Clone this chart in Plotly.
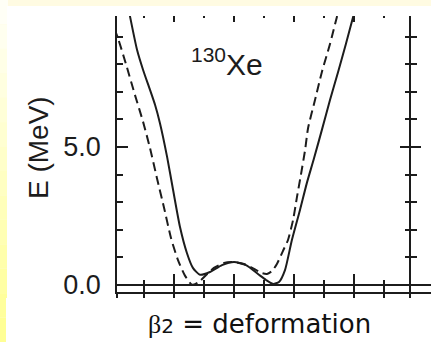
import plotly.graph_objects as go

# ---------------- data (beta_2 deformation, energy in MeV) ----------------
beta_solid = [-0.355, -0.347, -0.323, -0.303, -0.280, -0.263, -0.247, -0.223, -0.203, -0.180,
              -0.157, -0.137, -0.113, -0.080, -0.040, 0.000, 0.040, 0.080, 0.107, 0.130,
              0.150, 0.170, 0.193, 0.220, 0.243, 0.267, 0.293, 0.320, 0.347, 0.373, 0.397, 0.407]
E_solid = [10.2, 9.75, 8.51, 7.79, 7.07, 6.52, 5.87, 4.64, 3.44, 2.10,
           1.16, 0.62, 0.37, 0.47, 0.72, 0.83, 0.72, 0.40, 0.18, 0.04,
           0.11, 0.54, 1.63, 2.72, 3.70, 4.60, 5.62, 6.70, 7.72, 8.73, 9.71, 10.14]

beta_dashed = [-0.400, -0.387, -0.360, -0.330, -0.303, -0.280, -0.257, -0.233, -0.210, -0.187,
               -0.163, -0.140, -0.117, -0.093, -0.067, -0.033, 0.000, 0.033, 0.067, 0.093,
               0.110, 0.127, 0.143, 0.163, 0.180, 0.197, 0.210, 0.223, 0.237, 0.247,
               0.270, 0.293, 0.320, 0.343, 0.353]
E_dashed = [9.31, 8.95, 8.00, 6.88, 5.91, 4.96, 3.88, 2.79, 1.70, 0.91,
            0.33, 0.01, 0.11, 0.36, 0.62, 0.80, 0.83, 0.76, 0.58, 0.43,
            0.40, 0.51, 0.76, 1.23, 1.63, 2.36, 3.19, 3.99, 4.89, 5.69,
            6.70, 7.72, 8.73, 9.71, 10.14]

y_major = [0, 5]
y_major_text = ["0.0", "5.0"]
y_minor = [1, 2, 3, 4, 6, 7, 8, 9]
x_major = [-0.2, 0.0, 0.2, 0.4]
x_minor = [-0.3, -0.1, 0.1, 0.3, 0.5]
x_bottom = [-0.389, -0.3, -0.2, -0.1, 0.0, 0.1, 0.2, 0.3, 0.4, 0.5, 0.5867]

nucleus_label = "<sup>130</sup>Xe"
y_title = "E (MeV)"
x_title = ("<span style=\"font-family:Liberation Serif\">β</span>"
           "<span style=\"font-size:20px\">2</span> = deformation")

# ---------------- layout geometry ----------------
W, H = 431, 342
def pxx(x):
    return x / W
def pyy(y):
    return (H - y) / H

XR = [-0.39, 0.6567]
YR = [-0.254, 9.746]
INK = "#1c1c1c"
LW = 1.5

fig = go.Figure()
fig.add_trace(go.Scatter(x=beta_solid, y=E_solid, mode="lines",
                         line=dict(color=INK, width=2.0, shape="spline", smoothing=0.6),
                         xaxis="x", yaxis="y", showlegend=False, hoverinfo="skip"))
fig.add_trace(go.Scatter(x=beta_dashed, y=E_dashed, mode="lines",
                         line=dict(color=INK, width=2.0, dash="9px,5px", shape="spline", smoothing=0.6),
                         xaxis="x2", yaxis="y2", showlegend=False, hoverinfo="skip"))
# transparent copy so the top tick row and the inner right ticks get an axis pair to live on
fig.add_trace(go.Scatter(x=beta_solid, y=E_solid, mode="lines", opacity=0,
                         line=dict(color=INK, width=0.1),
                         xaxis="x3", yaxis="y3", showlegend=False, hoverinfo="skip"))

# background: yellow slide edges and white panel
shapes = []
nb = 14
for i in range(nb):
    y0 = H * i / nb
    y1 = H * (i + 1) / nb
    t = (i + 0.5) / nb
    g = int(round(250 - 105 * t))
    col = f"rgb(255,255,{g})"
    shapes.append(dict(type="rect", xref="paper", yref="paper", x0=0, x1=pxx(8),
                       y0=pyy(y1), y1=pyy(y0), fillcolor=col, line=dict(width=0), layer="below"))
shapes.append(dict(type="rect", xref="paper", yref="paper", x0=pxx(7), x1=1,
                   y0=pyy(298), y1=pyy(6), fillcolor="white", line=dict(width=0), layer="below"))
shapes.append(dict(type="rect", xref="paper", yref="paper", x0=pxx(6), x1=1,
                   y0=0, y1=pyy(298), fillcolor="white", line=dict(width=0), layer="below"))

common_font = dict(family="Liberation Sans, Arial, sans-serif", color=INK)
no_auto = dict(automargin=False, showgrid=False, zeroline=False)

fig.update_layout(
    width=W, height=H, autosize=False,
    margin=dict(l=0, r=0, t=0, b=0, pad=0, autoexpand=False),
    paper_bgcolor="#FFFBE2", plot_bgcolor="rgba(0,0,0,0)",
    shapes=shapes,
    xaxis=dict(domain=[pxx(117), 1], range=XR, anchor="y", **no_auto,
               showline=True, linecolor=INK, linewidth=LW,
               tickmode="array", tickvals=x_major, ticks="inside", ticklen=18,
               tickwidth=LW, tickcolor=INK, showticklabels=False,
               minor=dict(tickmode="array", tickvals=x_minor, ticks="inside", ticklen=12,
                          tickwidth=LW, tickcolor=INK, showgrid=False)),
    xaxis2=dict(overlaying="x", anchor="y", side="bottom", range=XR, **no_auto,
                showline=False, tickmode="array", tickvals=x_bottom,
                ticks="outside", ticklen=5, tickwidth=LW, tickcolor=INK, showticklabels=False),
    xaxis3=dict(overlaying="x", anchor="y", side="top", range=XR, **no_auto,
                showline=False, tickmode="array", tickvals=x_major,
                ticks="inside", ticklen=6, tickwidth=LW, tickcolor=INK, showticklabels=False,
                minor=dict(tickmode="array", tickvals=x_minor, ticks="inside", ticklen=2,
                           tickwidth=LW, tickcolor=INK, showgrid=False)),
    yaxis=dict(domain=[pyy(292), pyy(16)], range=YR, anchor="x", automargin=False,
               showgrid=False, zeroline=True, zerolinecolor=INK, zerolinewidth=LW,
               showline=True, linecolor=INK, linewidth=LW,
               tickmode="array", tickvals=y_major, ticktext=y_major_text,
               ticks="inside", ticklen=11, tickwidth=LW, tickcolor=INK,
               tickfont=dict(size=27, **common_font), ticklabelstandoff=9,
               minor=dict(tickmode="array", tickvals=y_minor, ticks="inside", ticklen=6,
                          tickwidth=LW, tickcolor=INK, showgrid=False)),
    yaxis2=dict(overlaying="y", anchor="free", position=pxx(410), side="right", range=YR,
                **no_auto, showline=True, linecolor=INK, linewidth=LW,
                tickmode="array", tickvals=y_major, ticks="outside", ticklen=10,
                tickwidth=LW, tickcolor=INK, showticklabels=False,
                minor=dict(tickmode="array", tickvals=y_minor, ticks="outside", ticklen=6,
                           tickwidth=LW, tickcolor=INK, showgrid=False)),
    yaxis3=dict(overlaying="y", anchor="free", position=pxx(410), side="right", range=YR,
                **no_auto, showline=False,
                tickmode="array", tickvals=y_major, ticks="inside", ticklen=10,
                tickwidth=LW, tickcolor=INK, showticklabels=False,
                minor=dict(tickmode="array", tickvals=y_minor, ticks="inside", ticklen=5,
                           tickwidth=LW, tickcolor=INK, showgrid=False)),
    annotations=[
        dict(text=y_title, xref="paper", yref="paper", x=pxx(38), y=pyy(148),
             xanchor="center", yanchor="middle", textangle=-90, showarrow=False,
             font=dict(size=28, **common_font)),
        dict(text=nucleus_label, xref="paper", yref="paper", x=pxx(227), y=pyy(62),
             xanchor="center", yanchor="middle", showarrow=False,
             font=dict(size=30, **common_font)),
        dict(text=x_title, xref="paper", yref="paper", x=pxx(259), y=pyy(324),
             xanchor="center", yanchor="middle", showarrow=False,
             font=dict(size=26, family="DejaVu Sans, sans-serif", color="#111")),
    ],
)

fig.write_html("out.html",
               config={"responsive": False, "displayModeBar": False},
               post_script="document.body.style.margin='0';document.body.style.overflow='hidden';")
